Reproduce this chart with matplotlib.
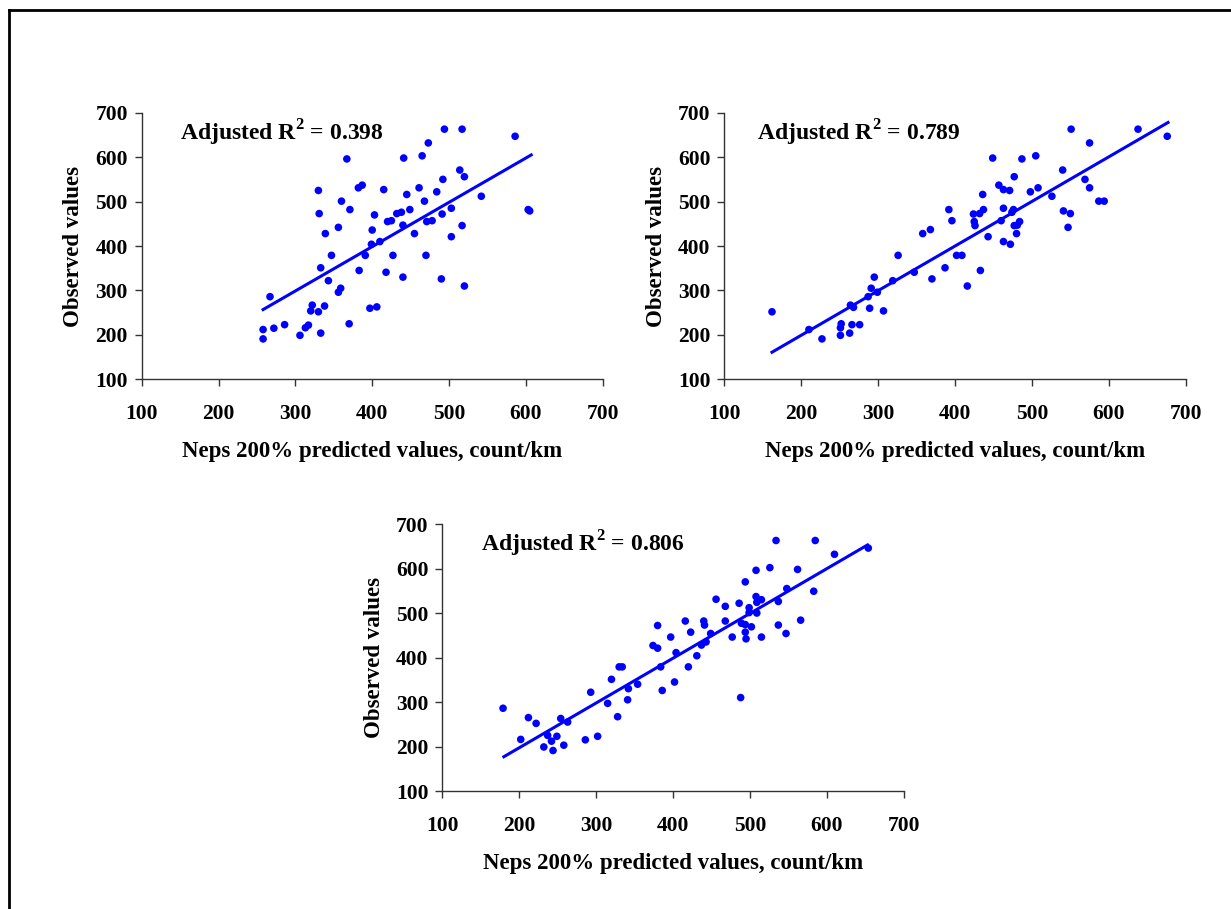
import matplotlib.pyplot as plt
from matplotlib.lines import Line2D

plt.rcParams['font.family'] = ['Liberation Serif', 'DejaVu Serif']
plt.rcParams['font.weight'] = 'bold'
plt.rcParams['mathtext.fontset'] = 'custom'
plt.rcParams['mathtext.rm'] = 'Liberation Serif:bold'
plt.rcParams['mathtext.bf'] = 'Liberation Serif:bold'

# panel 1: adjusted R2 = 0.398
x1 = [494, 517, 586, 473, 465, 367, 441, 514, 520, 492, 330, 387, 382, 415, 461, 484,
      445, 542, 360, 468, 371, 449, 503, 603, 605, 331, 403, 432, 438, 491, 420, 425,
      471, 478, 440, 517, 356, 400, 339, 455, 503, 410, 399, 347, 391, 427, 470, 333,
      383, 418, 440, 490, 343, 520, 359, 356, 267, 322, 338, 320, 330, 397, 406, 286,
      272, 258, 313, 317, 370, 306, 333, 258]
y1 = [663, 663, 647, 632, 603, 596, 598, 571, 556, 550, 525, 537, 531, 527, 531, 522,
      516, 512, 501, 501, 482, 482, 485, 482, 479, 473, 470, 473, 476, 472, 455, 457,
      455, 457, 447, 446, 442, 436, 428, 428, 421, 410, 404, 379, 379, 379, 379, 351,
      345, 341, 330, 326, 322, 310, 305, 296, 286, 267, 265, 254, 252, 260, 263, 223,
      215, 212, 216, 222, 225, 199, 204, 191]
fit1_x = [258, 607]
fit1_y = [257, 605]

# panel 2: adjusted R2 = 0.789
x2 = [551, 638, 676, 575, 449, 487, 505, 540, 477, 569, 457, 463, 471, 498, 508, 575,
      436, 526, 587, 594, 392, 437, 463, 476, 541, 550, 424, 432, 474, 396, 425, 460,
      484, 426, 477, 481, 547, 358, 368, 480, 443, 463, 472, 326, 402, 409, 387, 347,
      433, 370, 295, 319, 416, 291, 299, 287, 264, 268, 289, 307, 162, 210, 252, 251,
      266, 276, 251, 263, 227]
y2 = [663, 663, 647, 632, 598, 596, 603, 571, 556, 550, 537, 527, 525, 522, 531, 531,
      516, 512, 501, 501, 482, 482, 485, 482, 479, 473, 472, 473, 476, 457, 455, 457,
      455, 446, 446, 447, 442, 428, 437, 428, 421, 410, 404, 379, 379, 379, 351, 341,
      345, 326, 330, 322, 310, 305, 296, 286, 267, 262, 260, 254, 252, 212, 225, 216,
      223, 223, 199, 204, 191]
fit2_x = [162, 677]
fit2_y = [161, 678]

# panel 3: adjusted R2 = 0.806
x3 = [534, 585, 654, 610, 508, 526, 562, 494, 548, 583, 456, 468, 486, 508, 509, 515,
      537, 499, 499, 509, 416, 440, 441, 468, 489, 494, 566, 380, 537, 502, 423, 449,
      494, 547, 397, 477, 495, 515, 443, 437, 374, 380, 404, 431, 330, 334, 384, 420,
      320, 402, 354, 342, 386, 293, 315, 341, 488, 328, 179, 212, 222, 254, 263, 237,
      249, 202, 242, 286, 302, 258, 232, 244]
y3 = [663, 663, 646, 632, 596, 602, 598, 570, 555, 549, 531, 515, 522, 537, 524, 530,
      526, 512, 501, 500, 482, 482, 473, 482, 477, 474, 484, 472, 473, 469, 457, 454,
      457, 454, 446, 446, 442, 446, 435, 428, 427, 421, 411, 404, 379, 379, 379, 379,
      351, 345, 340, 330, 326, 322, 297, 305, 310, 267, 286, 265, 252, 263, 255, 225,
      223, 216, 212, 215, 223, 203, 199, 191]
fit3_x = [180, 653]
fit3_y = [177, 653]

labels = ['Adjusted R$^{2}$ = 0.398', 'Adjusted R$^{2}$ = 0.789', 'Adjusted R$^{2}$ = 0.806']
label_x = [150, 142, 150]
ticks = [100, 200, 300, 400, 500, 600, 700]

fig = plt.figure(figsize=(12.31, 9.09), dpi=100)

# figure border (left and top edges visible)
fig.add_artist(Line2D([9 / 1231, 9 / 1231], [0, 1 - 10 / 909], transform=fig.transFigure,
                      color='black', lw=2))
fig.add_artist(Line2D([9 / 1231, 1], [1 - 10 / 909, 1 - 10 / 909], transform=fig.transFigure,
                      color='black', lw=2))

boxes = [[0.1151, 0.5827, 0.3745, 0.2933],
         [0.5884, 0.5827, 0.3748, 0.2933],
         [0.3593, 0.1298, 0.3748, 0.2937]]
panels = [(x1, y1, fit1_x, fit1_y), (x2, y2, fit2_x, fit2_y), (x3, y3, fit3_x, fit3_y)]

for box, (xs, ys, fx, fy), lab, lx in zip(boxes, panels, labels, label_x):
    ax = fig.add_axes(box)
    ax.scatter(xs, ys, s=30, color='#0000ff', edgecolors='none', zorder=3)
    ax.plot(fx, fy, color='#0000ff', lw=2.2, zorder=2)
    ax.set_xlim(100, 700)
    ax.set_ylim(100, 700)
    ax.set_xticks(ticks)
    ax.set_yticks(ticks)
    for side in ['top', 'right']:
        ax.spines[side].set_visible(False)
    for side in ['left', 'bottom']:
        ax.spines[side].set_color('#333333')
        ax.spines[side].set_linewidth(1)
    ax.tick_params(axis='both', direction='out', length=5, width=1, color='#333333',
                   labelsize=15.5)
    ax.tick_params(axis='x', pad=13)
    ax.tick_params(axis='y', pad=5)
    ax.set_xlabel('Neps 200% predicted values, count/km', fontsize=16.5, fontweight='bold',
                  labelpad=12)
    ax.set_ylabel('Observed values', fontsize=16.5, fontweight='bold', labelpad=8)
    ax.text(lx, 655, lab, fontsize=17, fontweight='bold', va='center', ha='left')

fig.savefig('out.png', dpi=100)
